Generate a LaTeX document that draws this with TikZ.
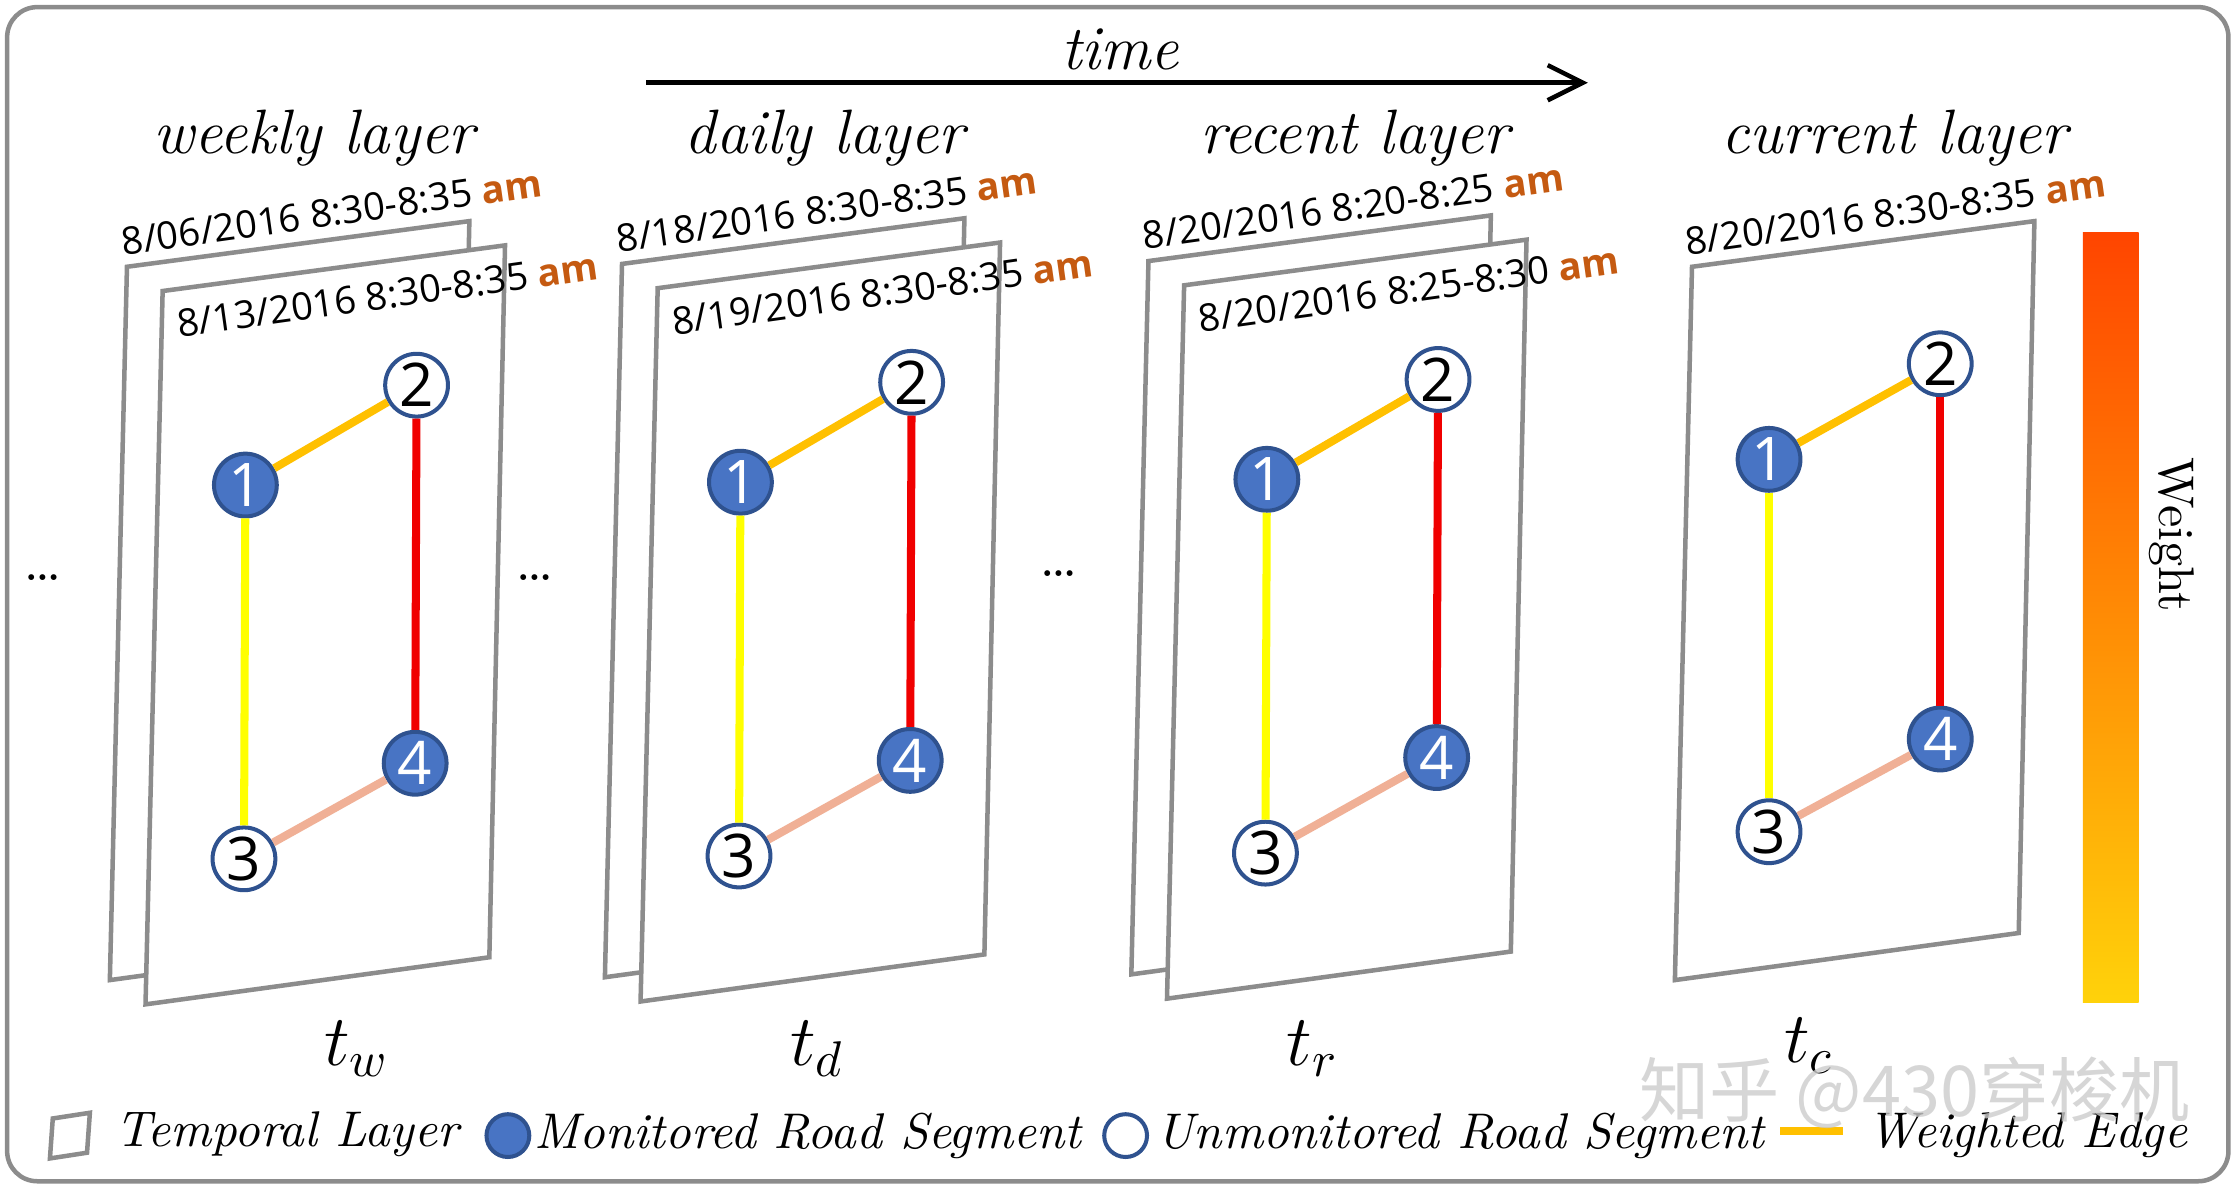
\documentclass[tikz,border=0pt]{standalone}
\usepackage{fontspec}
\newfontfamily\datefont{Open Sans}
\newfontfamily\cjkfont{Noto Sans CJK SC}
\usetikzlibrary{arrows.meta}
\definecolor{panelgray}{RGB}{140,140,140}
\definecolor{nodeblue}{RGB}{72,116,196}
\definecolor{ringblue}{RGB}{47,82,143}
\definecolor{amorange}{RGB}{197,90,17}
\definecolor{goldedge}{RGB}{255,192,0}
\definecolor{yellowedge}{RGB}{255,255,0}
\definecolor{rededge}{RGB}{240,0,0}
\definecolor{salmonedge}{RGB}{240,176,150}
\definecolor{barhot}{RGB}{255,69,0}
\definecolor{barwarm}{RGB}{255,210,10}

\tikzset{
  layerbox/.style={draw=panelgray,fill=white,line width=0.9pt},
  monitored/.style={circle,draw=ringblue,fill=nodeblue,text=white,minimum size=0.44cm,
    inner sep=0pt,line width=0.8pt,font=\datefont\fontsize{12}{12}\selectfont},
  unmonitored/.style={monitored,fill=white,text=black},
  datelabel/.style={font=\datefont\fontsize{7.6}{9}\selectfont,rotate=8,anchor=south west,inner sep=0pt},
  layertitle/.style={font=\itshape\fontsize{12.5}{14}\selectfont},
  legendtext/.style={font=\itshape\fontsize{10}{12}\selectfont,anchor=west,inner sep=0pt},
  edge/.style={line width=1.6pt}
}
\newcommand{\amtag}{\textbf{\color{amorange}am}}

\begin{document}
\begin{tikzpicture}[x=0.01cm,y=-0.01cm,>={Straight Barb[length=7pt,width=7pt]}]
\useasboundingbox (0,0) rectangle (1568,834);
\draw[panelgray,line width=0.9pt,rounded corners=6pt] (5,5) rectangle (1562,828);

% time axis
\coordinate (tstart) at (453,58);
\coordinate (tend) at (1113,58);
\draw[->,line width=0.9pt] (tstart) -- (tend);
\node[layertitle] (timelabel) at (785,35) {time};

% layers with two stacked panels
\foreach \k/\X/\Y/\da/\db/\title/\tx/\sub/\sx in {
  w/172/340/{8/06/2016 8:30-8:35}/{8/13/2016 8:30-8:35}/{weekly layer}/220/w/250,
  d/519/338/{8/18/2016 8:30-8:35}/{8/19/2016 8:30-8:35}/{daily layer}/578/d/573,
  r/888/336/{8/20/2016 8:20-8:25}/{8/20/2016 8:25-8:30}/{recent layer}/950/r/920}{
  \draw[layerbox] ({\X-83},{\Y-153}) -- ++(240,-32) -- ++(-11,499) -- ++(-241,33) -- cycle;
  \node[datelabel] (\k back) at ({\X-86},{\Y-160}) {\da\ \amtag};
  \draw[layerbox] ({\X-58},{\Y-136}) -- ++(240,-32) -- ++(-11,499) -- ++(-241,33) -- cycle;
  \node[datelabel] (\k front) at ({\X-47},{\Y-102}) {\db\ \amtag};
  \node[layertitle] (\k title) at (\tx,97) {\title};
  \node[font=\fontsize{14}{16}\selectfont] (\k time) at (\sx,735) {$t_\sub$};
  \node[monitored] (\k1) at (\X,\Y) {1};
  \node[unmonitored] (\k2) at ({\X+120},{\Y-70}) {2};
  \node[unmonitored] (\k3) at ({\X-1},{\Y+262}) {3};
  \node[monitored] (\k4) at ({\X+119},{\Y+195}) {4};
  \draw[edge,goldedge] (\k1) -- (\k2);
  \draw[edge,rededge] (\k2) -- (\k4);
  \draw[edge,yellowedge] (\k1) -- (\k3);
  \draw[edge,salmonedge] (\k3) -- (\k4);
}

% current layer
\draw[layerbox] (1186,187) -- ++(240,-32) -- ++(-11,499) -- ++(-241,33) -- cycle;
\node[datelabel] (cback) at (1182,180) {8/20/2016 8:30-8:35 \amtag};
\node[layertitle] (ctitle) at (1328,97) {current layer};
\node[font=\fontsize{14}{16}\selectfont] (ctime) at (1268,733) {$t_c$};
\node[monitored] (c1) at (1240,322) {1};
\node[unmonitored] (c2) at (1360,255) {2};
\node[unmonitored] (c3) at (1240,583) {3};
\node[monitored] (c4) at (1360,518) {4};
\draw[edge,goldedge] (c1) -- (c2);
\draw[edge,rededge] (c2) -- (c4);
\draw[edge,yellowedge] (c1) -- (c3);
\draw[edge,salmonedge] (c3) -- (c4);

% dots between layers
\node[font=\fontsize{12}{12}\selectfont] (dots1) at (30,405) {\dots};
\node[font=\fontsize{12}{12}\selectfont] (dots2) at (375,405) {\dots};
\node[font=\fontsize{12}{12}\selectfont] (dots3) at (742,402) {\dots};

% weight bar
\shade[top color=barhot,bottom color=barwarm] (1460,163) rectangle (1499,703);
\node[rotate=-90,font=\fontsize{10}{12}\selectfont] (weight) at (1522,375) {Weight};

% legend
\draw[panelgray,line width=0.9pt] (37,784) -- (63,780) -- (61,808) -- (35,812) -- cycle;
\node[legendtext] (lglayer) at (80,795) {Temporal Layer};
\node[monitored,minimum size=0.3cm] (lgmon) at (356,796) {};
\node[legendtext] (lgmontext) at (374,796) {Monitored Road Segment};
\node[unmonitored,minimum size=0.3cm] (lgunmon) at (789,796) {};
\node[legendtext] (lgunmontext) at (810,796) {Unmonitored Road Segment};
\coordinate (lgea) at (1248,793);
\coordinate (lgeb) at (1292,793);
\draw[edge,goldedge] (lgea) -- (lgeb);
\node[legendtext] (lgedge) at (1308,796) {Weighted Edge};

% watermark
\node[font=\cjkfont\fontsize{14}{15}\selectfont,text=gray!40,opacity=0.8] (mark) at (1342,766) {知乎 @430穿梭机};
\end{tikzpicture}
\end{document}
